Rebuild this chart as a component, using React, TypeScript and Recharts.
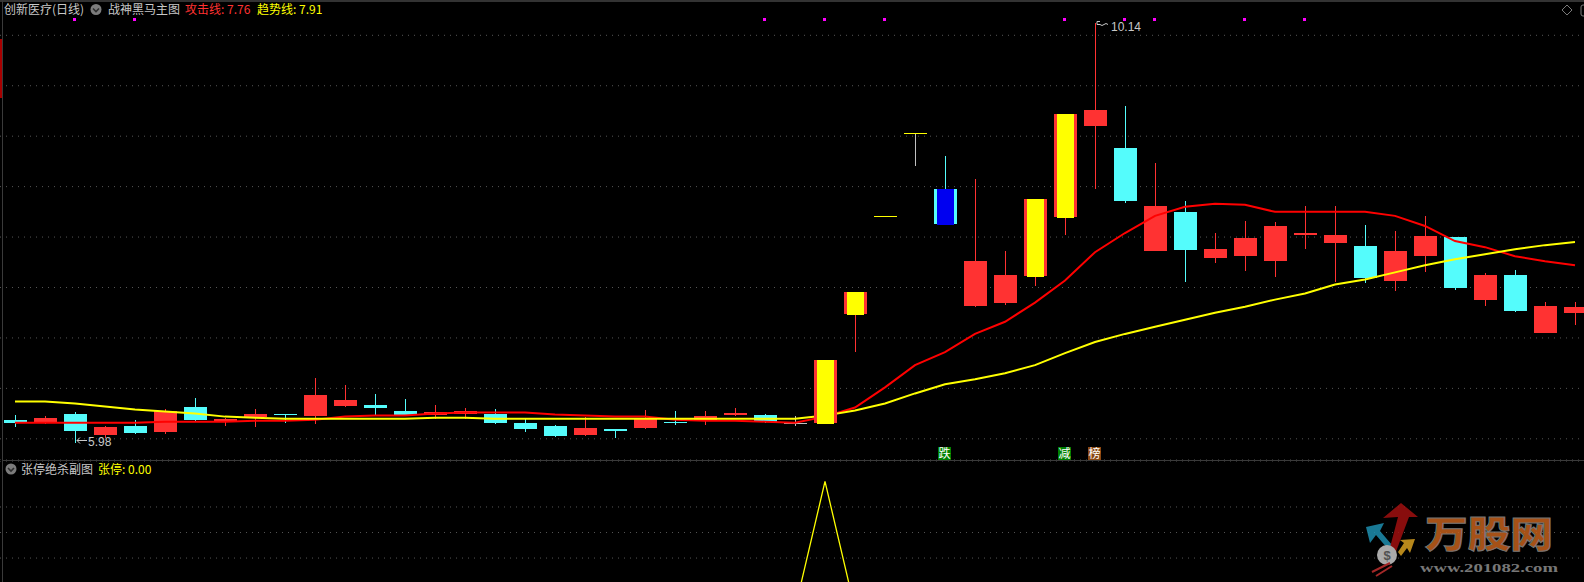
import React from 'react';
import { ComposedChart, Bar, Line, XAxis, YAxis, CartesianGrid, ReferenceDot } from 'recharts';

// ---------- text ----------
const stockName = '创新医疗(日线)';
const mainTitle = '战神黑马主图';
const attackLabel = '攻击线';
const trendLabel = '趋势线';
const attackValue = '7.76';
const trendValue = '7.91';
const subTitle = '张停绝杀副图';
const subLabel = '张停';
const subValue = '0.00';

// ---------- data ----------
const openPrices = [6.21, 6.19, 6.27, 6.06, 6.15, 6.09, 6.34, 6.19, 6.24, 6.27, 6.25, 6.35, 6.36, 6.30, 6.26, 6.27, 6.27, 6.18, 6.15, 6.06, 6.12, 6.13, 6.19, 6.21, 6.26, 6.26, 6.18, 6.18, 7.26, 8.23, 9.05, 8.50, 7.34, 7.37, 7.63, 8.22, 9.12, 8.90, 7.88, 8.27, 7.81, 7.83, 7.78, 8.04, 7.96, 7.93, 7.58, 7.83, 8.02, 7.40, 7.64, 7.07, 7.27];
const highPrices = [6.26, 6.25, 6.29, 6.15, 6.21, 6.32, 6.42, 6.23, 6.32, 6.27, 6.62, 6.55, 6.46, 6.41, 6.36, 6.33, 6.32, 6.22, 6.16, 6.24, 6.12, 6.31, 6.30, 6.30, 6.33, 6.27, 6.25, 6.80, 7.48, 8.23, 9.05, 8.82, 8.60, 7.88, 8.40, 9.24, 10.14, 9.32, 8.75, 8.38, 8.06, 8.18, 8.17, 8.33, 8.33, 8.14, 8.08, 8.23, 8.02, 7.66, 7.69, 7.38, 7.38];
const lowPrices = [6.14, 6.17, 5.98, 6.03, 6.07, 6.07, 6.20, 6.15, 6.14, 6.18, 6.17, 6.34, 6.26, 6.25, 6.22, 6.22, 6.17, 6.09, 6.04, 6.05, 6.03, 6.12, 6.16, 6.16, 6.25, 6.18, 6.15, 6.18, 6.88, 8.23, 8.72, 8.14, 7.33, 7.35, 7.53, 8.04, 8.50, 8.36, 7.88, 7.57, 7.76, 7.68, 7.62, 7.90, 7.57, 7.56, 7.49, 7.67, 7.50, 7.34, 7.28, 7.07, 7.15];
const closePrices = [6.18, 6.23, 6.10, 6.14, 6.08, 6.30, 6.21, 6.22, 6.27, 6.26, 6.45, 6.40, 6.33, 6.26, 6.29, 6.30, 6.18, 6.12, 6.05, 6.13, 6.10, 6.23, 6.18, 6.25, 6.28, 6.19, 6.18, 6.80, 7.48, 8.23, 9.05, 8.15, 7.78, 7.64, 8.40, 9.24, 9.28, 8.38, 8.33, 7.89, 7.90, 8.01, 8.13, 8.06, 8.04, 7.61, 7.88, 8.03, 7.52, 7.64, 7.29, 7.34, 7.33];
const attackLine = [6.18, 6.18, 6.18, 6.18, 6.18, 6.19, 6.19, 6.19, 6.20, 6.20, 6.21, 6.24, 6.25, 6.25, 6.27, 6.28, 6.28, 6.28, 6.26, 6.25, 6.24, 6.24, 6.21, 6.20, 6.20, 6.19, 6.18, 6.24, 6.33, 6.53, 6.75, 6.88, 7.06, 7.18, 7.37, 7.59, 7.87, 8.06, 8.23, 8.32, 8.35, 8.34, 8.27, 8.27, 8.27, 8.27, 8.23, 8.13, 7.98, 7.92, 7.83, 7.78, 7.74];
const trendLine = [6.39, 6.39, 6.37, 6.34, 6.31, 6.29, 6.27, 6.24, 6.23, 6.22, 6.22, 6.22, 6.22, 6.22, 6.23, 6.23, 6.22, 6.22, 6.22, 6.22, 6.22, 6.22, 6.22, 6.22, 6.22, 6.22, 6.22, 6.25, 6.30, 6.37, 6.47, 6.56, 6.61, 6.67, 6.75, 6.87, 6.98, 7.06, 7.13, 7.20, 7.27, 7.33, 7.40, 7.46, 7.55, 7.60, 7.67, 7.74, 7.80, 7.85, 7.90, 7.94, 7.97];
const limitKill = [0, 0, 0, 0, 0, 0, 0, 0, 0, 0, 0, 0, 0, 0, 0, 0, 0, 0, 0, 0, 0, 0, 0, 0, 0, 0, 0, 1, 0, 0, 0, 0, 0, 0, 0, 0, 0, 0, 0, 0, 0, 0, 0, 0, 0, 0, 0, 0, 0, 0, 0, 0, 0];
const markIdx = [2, 4, 25, 27, 29, 35, 37, 38, 41, 43];
const signalIdx = [31, 35, 36];
const signalText = ['跌', '减', '榜'];
const breakIdx = [31];
const highIdx = 36;
const lowIdx = 2;
const gridPrices = [6.02, 6.52, 7.02, 7.52, 8.02, 8.52, 9.02, 9.52, 10.02];
const subGridValues = [0.4, 0.6, 0.8];

// ---------- layout / style ----------
const W = 1584;
const H = 582;
const CHART_W = 1590;
const MAIN_H = 460;
const Y_MIN = 5.81;
const Y_MAX = 10.37;
const K = MAIN_H / (Y_MAX - Y_MIN);
const SUB_TOP = 461;
const SUB_H = 212;
const SUB_MIN = -0.5;
const SUB_MAX = 1.16;
const MARK_LEVEL = 10.18;
const SIGNAL_LEVEL = 5.884;

const UP = '#FF3232';
const DOWN = '#54FCFC';
const FLAT = '#C0C0C0';
const LIMIT = '#FFFF00';
const BREAK = '#0000F0';
const TEXT = '#C8C8C8';
const GRID = '#555555';
const FONT = '"Noto Sans CJK SC", "Noto Sans", sans-serif';
const NUMFONT = '"Liberation Sans", Arial, sans-serif';

const isLimit = (i: number) =>
  i > 0 && closePrices[i] >= Math.round(closePrices[i - 1] * 110) / 100 - 0.005;

const rows = openPrices.map((o, i) => ({
  i,
  open: o,
  high: highPrices[i],
  low: lowPrices[i],
  close: closePrices[i],
  range: [lowPrices[i], highPrices[i]],
  attack: attackLine[i],
  trend: trendLine[i],
  zt: limitKill[i],
}));

function CandleShape(props: any) {
  const { x, y, width, height, payload } = props;
  if (x == null || y == null || !payload) return <g />;
  const { open, close, high, low, i } = payload;
  const span = high - low;
  const h = Math.abs(height || 0);
  const k = span > 0 && h > 0 ? h / span : K;
  const top = Math.min(y, y + (height || 0));
  const py = (p: number) => top + (high - p) * k;
  const left = Math.ceil(x);
  const w = Math.round(width);
  const mid = left + Math.floor(w / 2);
  const color = close > open ? UP : close < open ? DOWN : FLAT;
  const bTop = Math.round(py(Math.max(open, close)));
  const bBot = Math.round(py(Math.min(open, close)));
  const bodyH = Math.max(1, bBot - bTop);
  const wTop = Math.round(py(high));
  const wH = Math.max(1, Math.round(py(low)) - wTop);
  const isBreak = breakIdx.includes(i);
  return (
    <g shapeRendering="crispEdges">
      <rect x={mid} y={wTop} width={1} height={wH} fill={color} />
      <rect x={left} y={bTop} width={w} height={bodyH} fill={color} />
      {isBreak && <rect x={left + 3} y={bTop} width={w - 6} height={bodyH + 1} fill={BREAK} />}
    </g>
  );
}

const limitShape = (open: number, close: number) => (props: any) => {
  const { cx, cy } = props;
  if (cx == null || cy == null) return <g />;
  const left = Math.round(cx) - 11;
  const top = Math.round(cy);
  if (close - open < 0.005) {
    return <rect x={left} y={top} width={23} height={1} fill={LIMIT} shapeRendering="crispEdges" />;
  }
  const bot = Math.round(cy + (close - open) * K);
  return (
    <g shapeRendering="crispEdges">
      <rect x={left} y={top} width={23} height={bot - top} fill={UP} />
      <rect x={left + 3} y={top} width={17} height={bot - top + 1} fill={LIMIT} />
    </g>
  );
};

const markShape = (props: any) => {
  const { cx, cy } = props;
  return <rect x={Math.round(cx) - 2} y={Math.round(cy) - 1} width={3} height={3} fill="#FF00FF" shapeRendering="crispEdges" />;
};

const signalShape = (text: string, bg: string) => (props: any) => {
  const { cx, cy } = props;
  return (
    <g>
      <rect x={Math.round(cx) - 7} y={Math.round(cy) - 6} width={13} height={13} fill={bg} shapeRendering="crispEdges" />
      <text x={Math.round(cx) - 0.5} y={Math.round(cy) + 5} fill="#FFFFFF" fontSize={12} fontFamily={FONT} textAnchor="middle">
        {text}
      </text>
    </g>
  );
};

const lowLabelShape = (props: any) => {
  const { cx, cy } = props;
  const ay = Math.round(cy) - 2.5;
  return (
    <g>
      <path d={`M${cx + 2},${ay} L${cx + 12},${ay} M${cx + 2},${ay} l3,-3 M${cx + 2},${ay} l3,3`} stroke={TEXT} strokeWidth={1} fill="none" />
      <text x={cx + 13} y={cy + 3.5} fill={TEXT} fontSize={12} fontFamily={NUMFONT}>
        {lowPrices[lowIdx].toFixed(2)}
      </text>
    </g>
  );
};

const highLabelShape = (props: any) => {
  const { cx, cy } = props;
  const ay = Math.round(cy) + 1.5;
  return (
    <g>
      <path d={`M${cx + 2},${ay} L${cx + 5},${ay} q2,2 4,0 t4,0 M${cx + 2},${ay} l0,-3 M${cx + 2},${ay - 3} l3,0`} stroke={TEXT} strokeWidth={1} fill="none" />
      <text x={cx + 16} y={cy + 8} fill={TEXT} fontSize={12} fontFamily={NUMFONT}>
        {highPrices[highIdx].toFixed(2)}
      </text>
    </g>
  );
};

const Icon = ({ cx, cy }: { cx: number; cy: number }) => (
  <g>
    <circle cx={cx} cy={cy} r={5.5} fill="#7C7C7C" />
    <path d={`M${cx - 3},${cy - 1} L${cx},${cy + 2} L${cx + 3},${cy - 1}`} stroke="#2E2E2E" strokeWidth={1.6} fill="none" />
  </g>
);

export default function App() {
  return (
    <div style={{ position: 'fixed', left: 0, top: 0, width: W, height: H, background: '#000', overflow: 'hidden' }}>
      <div style={{ position: 'absolute', left: 0, top: 0 }}>
        <ComposedChart width={CHART_W} height={MAIN_H} data={rows} margin={{ top: 0, right: 0, bottom: 0, left: 0 }}>
          <CartesianGrid vertical={false} stroke={GRID} strokeDasharray="1 5" />
          <XAxis dataKey="i" type="category" scale="band" hide />
          <YAxis type="number" domain={[Y_MIN, Y_MAX]} ticks={gridPrices} hide allowDataOverflow />
          <Bar dataKey="range" barSize={23} shape={CandleShape} isAnimationActive={false} />
          <Line dataKey="attack" type="linear" stroke="#FF0000" strokeWidth={2} dot={false} activeDot={false} isAnimationActive={false} />
          <Line dataKey="trend" type="linear" stroke="#FFFF00" strokeWidth={2} dot={false} activeDot={false} isAnimationActive={false} />
          {rows.filter((r) => isLimit(r.i)).map((r) => (
            <ReferenceDot key={`lim${r.i}`} x={r.i} y={r.close} shape={limitShape(r.open, r.close)} />
          ))}
          {markIdx.map((i) => (
            <ReferenceDot key={`mk${i}`} x={i} y={MARK_LEVEL} shape={markShape} />
          ))}
          {signalIdx.map((i, n) => (
            <ReferenceDot key={`sg${i}`} x={i} y={SIGNAL_LEVEL} shape={signalShape(signalText[n], signalText[n] === '榜' ? '#8A4712' : '#008000')} />
          ))}
          <ReferenceDot x={lowIdx} y={lowPrices[lowIdx]} shape={lowLabelShape} />
          <ReferenceDot x={highIdx} y={highPrices[highIdx]} shape={highLabelShape} />
        </ComposedChart>
      </div>
      <div style={{ position: 'absolute', left: 0, top: SUB_TOP }}>
        <ComposedChart width={CHART_W} height={SUB_H} data={rows} margin={{ top: 0, right: 0, bottom: 0, left: 0 }}>
          <CartesianGrid vertical={false} stroke={GRID} strokeDasharray="1 5" />
          <XAxis dataKey="i" type="category" scale="band" hide />
          <YAxis type="number" domain={[SUB_MIN, SUB_MAX]} ticks={subGridValues} hide allowDataOverflow />
          <Line dataKey="zt" type="linear" stroke="#FFFF00" strokeWidth={1.3} dot={false} activeDot={false} isAnimationActive={false} />
        </ComposedChart>
      </div>
      <svg width={W} height={H} style={{ position: 'absolute', left: 0, top: 0, pointerEvents: 'none' }}>
        <rect x={0} y={0} width={W} height={2} fill="#333333" />
        <rect x={2} y={0} width={1} height={H} fill="#3A3A3A" />
        <rect x={0} y={39} width={2} height={59} fill="#A80000" />
        <rect x={2} y={460} width={W} height={1} fill="#3A3A3A" />
        {/* main title */}
        <text x={4} y={14} fill={TEXT} fontSize={12} fontFamily={FONT}>{stockName}</text>
        <Icon cx={96} cy={9.5} />
        <text x={108} y={14} fill={TEXT} fontSize={12} fontFamily={FONT}>{mainTitle}</text>
        <text x={185} y={14} fill={UP} fontSize={12} fontFamily={FONT}>{`${attackLabel}: ${attackValue}`}</text>
        <text x={257} y={14} fill="#FFFF00" fontSize={12} fontFamily={FONT}>{`${trendLabel}: ${trendValue}`}</text>
        {/* sub title */}
        <Icon cx={11} cy={469} />
        <text x={21} y={474} fill={TEXT} fontSize={12} fontFamily={FONT}>{subTitle}</text>
        <text x={98} y={474} fill="#FFFF00" fontSize={12} fontFamily={FONT}>{`${subLabel}: ${subValue}`}</text>
        {/* top-right icons */}
        <path d="M1567,5 L1572,10 L1567,15 L1562,10 Z" stroke="#7A7A7A" fill="none" />
        <rect x={1581} y={5} width={10} height={11} rx={2} stroke="#7A7A7A" fill="none" />
        {/* watermark */}
        <g opacity={0.85}>
          <polygon points="1366,527 1384,523 1380,531 1392,545 1388,549 1376,535 1370,543" fill="#1E8FB0" />
          <polygon points="1383,518 1401,503 1418,517 1409,517 1394,557 1388,555 1398,517" fill="#A01010" />
          <polygon points="1398,552 1404,543 1400,540 1415,539 1410,553 1407,548 1401,556" fill="#D8A020" />
          <circle cx={1387} cy={555} r={10} fill="#C8C8C8" />
          <text x={1387} y={560} fill="#606060" fontSize={13} fontWeight={700} textAnchor="middle" fontFamily={NUMFONT}>$</text>
          <path d="M1372,572 L1390,563 M1376,576 L1392,566" stroke="#C03030" strokeWidth={2} />
          <text x={1425} y={548} fill="#C4601C" stroke="#8A8A8A" strokeWidth={1} fontSize={37} fontWeight={900} fontFamily={FONT} textLength={128} lengthAdjust="spacingAndGlyphs">万股网</text>
          <text x={1420} y={572} fill="#8C8C8C" fontSize={12} fontWeight={700} fontFamily='"Liberation Serif", serif' textLength={138} lengthAdjust="spacingAndGlyphs">www.201082.com</text>
        </g>
      </svg>
    </div>
  );
}
